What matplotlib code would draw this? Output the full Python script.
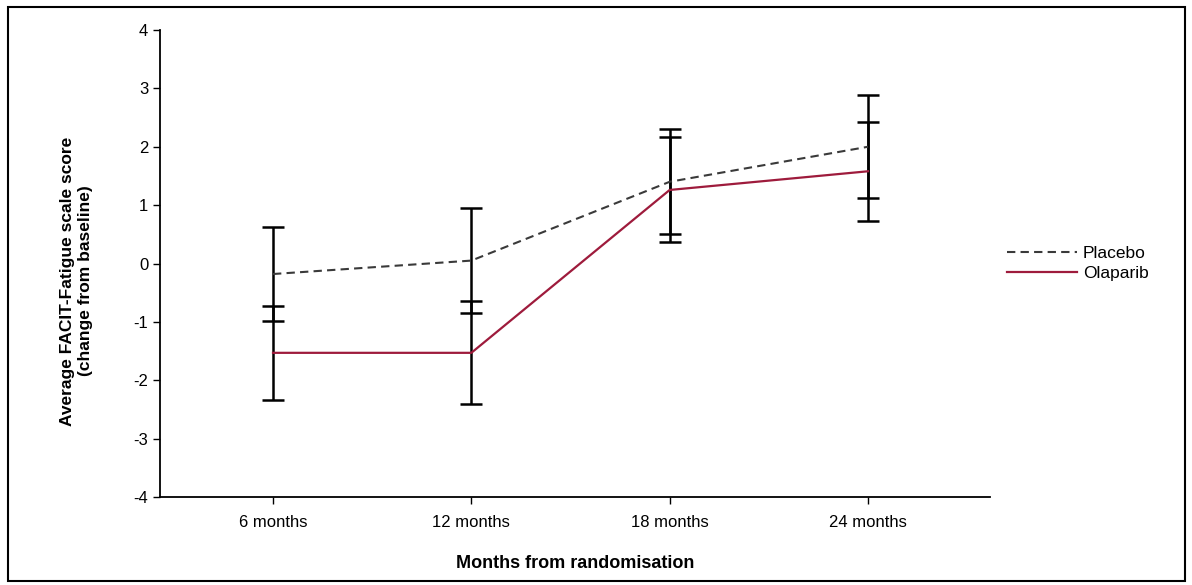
import matplotlib
matplotlib.use("Agg")
from matplotlib import pyplot as plt
from matplotlib.patches import Rectangle

plt.rcParams['font.family'] = ['Liberation Sans', 'DejaVu Sans']
plt.rcParams['axes.unicode_minus'] = False

# data
months = ["6 months", "12 months", "18 months", "24 months"]
placebo_mean = [-0.18, 0.05, 1.40, 2.00]
placebo_err = [0.80, 0.90, 0.90, 0.88]
olaparib_mean = [-1.53, -1.53, 1.26, 1.58]
olaparib_err = [0.80, 0.88, 0.90, 0.85]

x = list(range(len(months)))

fig = plt.figure(figsize=(11.92, 5.85), dpi=100)
ax = fig.add_axes([0.1342, 0.1504, 0.6963, 0.7983])

# error bars first (black), then the lines
ax.errorbar(x, placebo_mean, yerr=placebo_err, fmt='none', ecolor='black',
            elinewidth=1.8, capsize=8, capthick=1.8, zorder=2)
ax.errorbar(x, olaparib_mean, yerr=olaparib_err, fmt='none', ecolor='black',
            elinewidth=1.8, capsize=8, capthick=1.8, zorder=2)
l1, = ax.plot(x, placebo_mean, linestyle=(0, (4, 2.5)), color='#3a3a3a', lw=1.5,
              label='Placebo', zorder=3)
l2, = ax.plot(x, olaparib_mean, color='#9e1b3c', lw=1.6, label='Olaparib', zorder=3)

ax.set_xlim(-0.57, 3.615)
ax.set_ylim(-4, 4)
ax.set_yticks(range(-4, 5))
ax.set_xticks(x)
ax.set_xticklabels(months)
ax.tick_params(axis='both', labelsize=12, length=5, width=1, direction='out')
ax.tick_params(axis='x', pad=8)
ax.spines['top'].set_visible(False)
ax.spines['right'].set_visible(False)
ax.spines['left'].set_linewidth(1.3)
ax.spines['bottom'].set_linewidth(1.3)

ax.set_ylabel("Average FACIT-Fatigue scale score\n(change from baseline)",
              fontsize=12.5, fontweight='bold', linespacing=1.2)
ax.yaxis.set_label_coords(-0.081, 0.4625)
ax.set_xlabel("Months from randomisation", fontsize=13, fontweight='bold', labelpad=18)

fig.legend(handles=[l1, l2], loc='center left', bbox_to_anchor=(0.832, 0.55),
           frameon=False, fontsize=12.5, handlelength=4.0, handletextpad=0.35,
           labelspacing=0.3)

# outer frame
fig.patches.append(Rectangle((0.007, 0.006), 0.987, 0.982, transform=fig.transFigure,
                             fill=False, edgecolor='black', linewidth=1.5))

fig.savefig("out.png", dpi=100)
